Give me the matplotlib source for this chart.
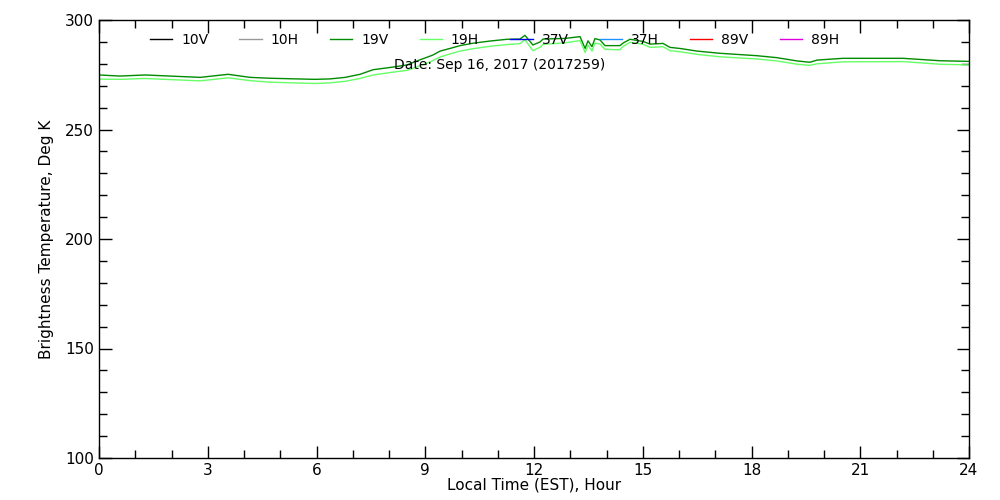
import matplotlib.pyplot as plt
from matplotlib.lines import Line2D
from matplotlib.ticker import MultipleLocator

# hours (local time) and brightness temperatures
hours = [0.0, 0.58, 1.27, 1.96, 2.79, 3.56, 4.17, 4.72, 5.96, 6.37, 6.79, 7.2,
         7.56, 8.11, 8.5, 8.77, 9.05, 9.21, 9.41, 9.68, 9.96, 10.32, 10.79, 11.26,
         11.61, 11.75, 11.97, 12.17, 12.25, 12.86, 13.27, 13.41, 13.49, 13.6, 13.68,
         13.82, 13.96, 14.37, 14.46, 14.65, 15.01, 15.2, 15.56, 15.75, 16.03, 16.5,
         17.13, 18.15, 18.7, 19.26, 19.61, 19.81, 20.52, 22.18, 23.2, 24.0]
tb_19v = [274.9, 274.4, 274.9, 274.4, 273.8, 275.2, 273.8, 273.4, 272.9, 273.1, 273.8, 275.2,
          277.3, 278.5, 279.5, 281.3, 283.0, 284.0, 285.8, 287.0, 288.3, 289.4, 290.4, 291.2,
          291.3, 293.0, 288.6, 290.0, 291.3, 291.6, 292.4, 287.0, 290.5, 287.8, 291.5,
          290.9, 288.3, 288.3, 289.5, 291.2, 290.2, 289.0, 289.3, 287.5, 287.0, 285.8,
          284.8, 283.7, 282.8, 281.3, 280.7, 281.7, 282.5, 282.5, 281.4, 281.1]
tb_19h = [273.0, 272.9, 273.3, 272.8, 272.2, 273.6, 272.3, 271.6, 271.0, 271.3, 272.0, 273.3,
          274.9, 276.2, 277.0, 278.6, 280.3, 281.5, 283.1, 284.5, 285.8, 286.9, 288.0, 288.8,
          289.2, 291.0, 286.0, 287.6, 288.9, 289.6, 290.6, 285.2, 288.5, 285.8, 289.5,
          289.0, 286.6, 286.4, 288.0, 289.8, 288.9, 287.5, 287.8, 286.0, 285.5, 284.3,
          283.2, 282.2, 281.3, 279.8, 279.3, 280.0, 280.9, 281.0, 279.8, 279.5]

channels = ['10V', '10H', '19V', '19H', '37V', '37H', '89V', '89H']
colors = ['black', '#999999', '#008c00', '#66ff66', '#0000e6', '#1e90ff', 'red', '#dd00dd']

fig = plt.figure(figsize=(10, 5), dpi=100)
ax = fig.add_axes([0.099, 0.084, 0.87, 0.876])

ax.plot(hours, tb_19v, color=colors[2], lw=1.0)
ax.plot(hours, tb_19h, color=colors[3], lw=1.0)

ax.set_xlim(0, 24)
ax.set_ylim(100, 300)
ax.xaxis.set_major_locator(MultipleLocator(3))
ax.xaxis.set_minor_locator(MultipleLocator(1))
ax.yaxis.set_major_locator(MultipleLocator(50))
ax.yaxis.set_minor_locator(MultipleLocator(10))
ax.tick_params(which='both', direction='in', top=True, right=True, labelsize=11, width=1)
ax.tick_params(which='major', length=9)
ax.tick_params(which='minor', length=6)
for s in ax.spines.values():
    s.set_linewidth(1)

ax.set_xlabel('Local Time (EST), Hour', fontsize=11, labelpad=0)
ax.set_ylabel('Brightness Temperature, Deg K', fontsize=11, labelpad=8)

handles = [Line2D([], [], color=c, lw=1.0) for c in colors]
ax.legend(handles, channels, ncol=8, frameon=False, fontsize=10,
          loc='upper left', bbox_to_anchor=(0.044, 1.0),
          handlelength=1.6, handletextpad=0.65, columnspacing=2.25)

ax.text(0.46, 0.897, 'Date: Sep 16, 2017 (2017259)', transform=ax.transAxes,
        ha='center', va='center', fontsize=10)

plt.savefig('out.png')
